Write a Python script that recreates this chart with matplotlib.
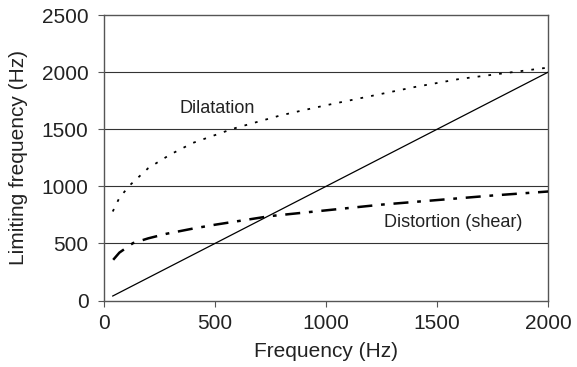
import numpy as np
import matplotlib
matplotlib.use('Agg')
import matplotlib.pyplot as plt

plt.rcParams['font.family'] = ['Liberation Sans', 'DejaVu Sans']

# values
diag_x = [40, 2000]
diag_y = [40, 2000]

dil_x = [40, 70, 117, 200, 300, 400, 582, 793, 883, 1000, 1200, 1400, 1600, 1800, 2000]
dil_y = [780, 900, 1010, 1160, 1280, 1380, 1505, 1620, 1660, 1710, 1790, 1870, 1940, 1990, 2040]

dis_x = [42, 70, 131, 200, 282, 400, 500, 750, 1000, 1250, 1500, 1750, 2000]
dis_y = [357, 420, 503, 545, 585, 630, 664, 740, 790, 840, 880, 920, 955]

fig = plt.figure(figsize=(5.77, 3.67), dpi=100)
ax = fig.add_axes([0.180, 0.181, 0.770, 0.778])

for yv in [500, 1000, 1500, 2000]:
    ax.axhline(yv, color='#333333', lw=0.8, zorder=1)

ax.plot(diag_x, diag_y, color='black', lw=0.9, zorder=3)
ax.plot(dil_x, dil_y, color='black', lw=1.3, linestyle=(0, (1.5, 4.5)), zorder=3)
ax.plot(dis_x, dis_y, color='black', lw=1.8, linestyle=(0, (6, 3.5, 1.5, 3.5)), zorder=3)

ax.text(509, 1682, 'Dilatation', fontsize=13, ha='center', va='center', color='#222222')
ax.text(1572, 682, 'Distortion (shear)', fontsize=13, ha='center', va='center', color='#222222')

ax.set_xlim(0, 2000)
ax.set_ylim(0, 2500)
ax.set_xticks([0, 500, 1000, 1500, 2000])
ax.set_yticks([0, 500, 1000, 1500, 2000, 2500])
ax.tick_params(labelsize=15, length=4, color='#555555', labelcolor='#222222')
ax.tick_params(axis='x', pad=6)
ax.tick_params(axis='y', pad=7)
for s in ax.spines.values():
    s.set_color('#555555')
    s.set_linewidth(1.0)

ax.set_xlabel('Frequency (Hz)', fontsize=15, color='#222222', labelpad=6)
ax.set_ylabel('Limiting frequency (Hz)', fontsize=15, color='#222222', labelpad=10)

fig.savefig('out.png', dpi=100)
